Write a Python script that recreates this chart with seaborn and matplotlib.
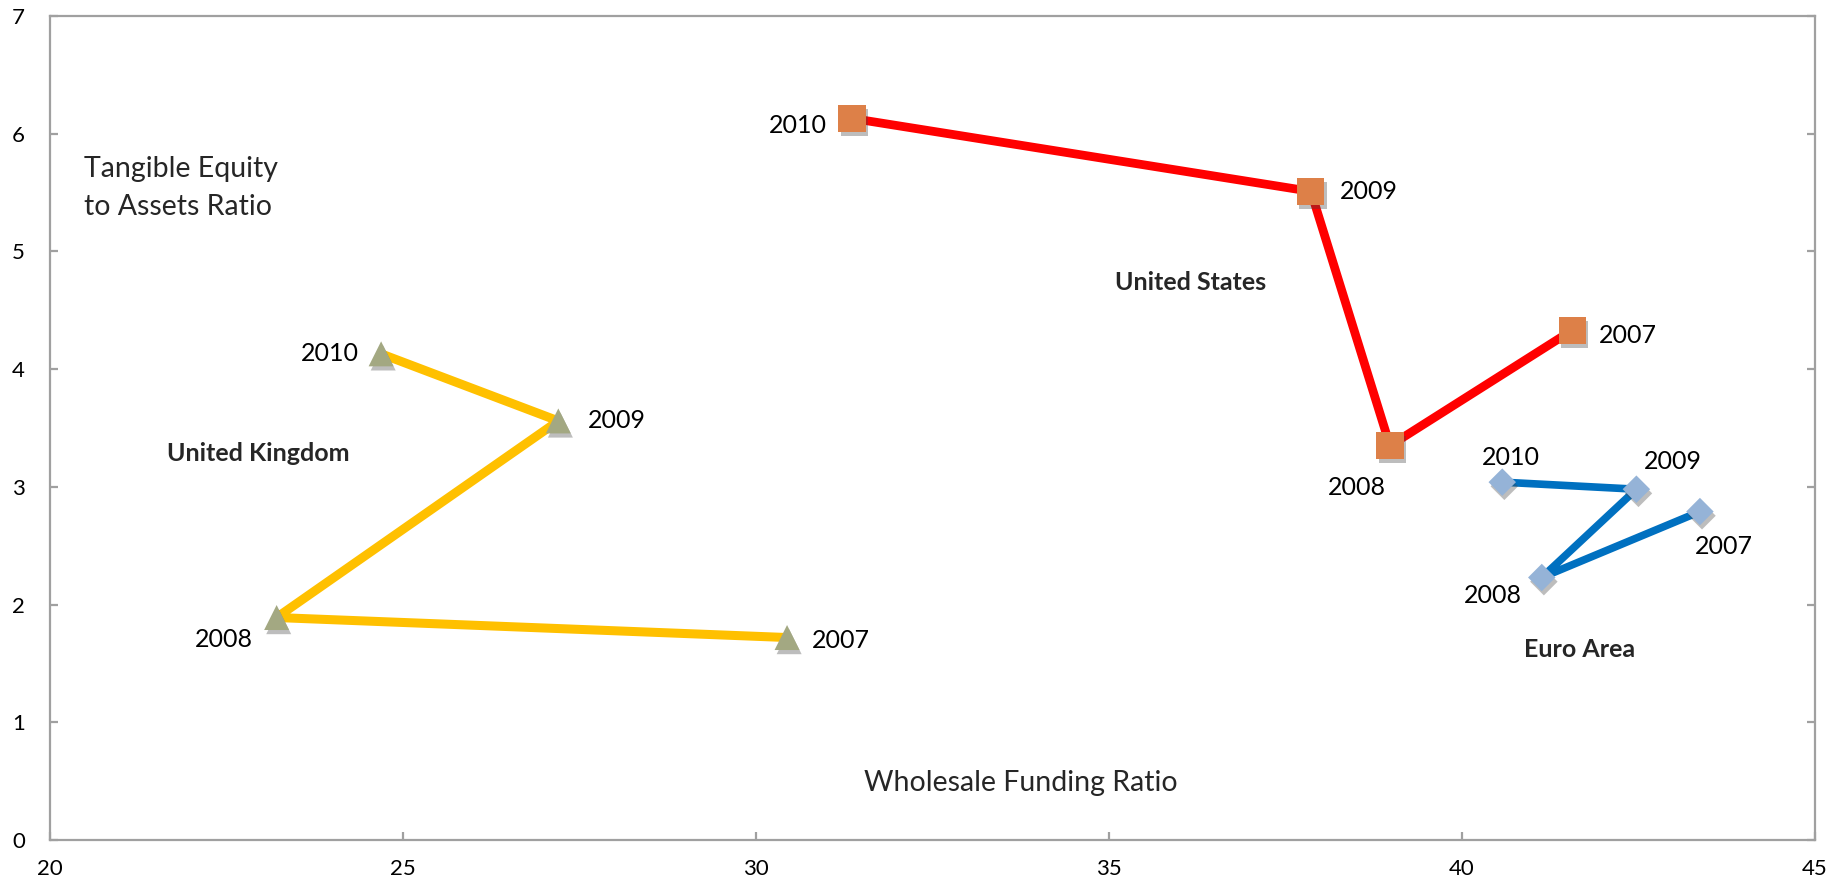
import numpy as np
import pandas as pd
import matplotlib
matplotlib.use("Agg")
import matplotlib.pyplot as plt
import matplotlib.patheffects as pe
import seaborn as sns

# --------------------------------------------------
# Data
# --------------------------------------------------
years = ["2007", "2008", "2009", "2010"]

uk_wholesale = [30.44, 23.21, 27.20, 24.69]
uk_equity = [1.72, 1.89, 3.56, 4.13]

us_wholesale = [41.56, 38.98, 37.86, 31.36]
us_equity = [4.33, 3.35, 5.51, 6.13]

ea_wholesale = [43.37, 41.13, 42.47, 40.57]
ea_equity = [2.79, 2.23, 2.98, 3.04]

# label offsets (points) for the year tags, per series in year order
uk_offsets = [(18, -2, "left"), (-17, -16, "right"), (21, 0, "left"), (-16, 0, "right")]
us_offsets = [(19, -4, "left"), (-24, -30, "center"), (21, 0, "left"), (-18, -5, "right")]
ea_offsets = [(17, -25, "center"), (-35, -13, "center"), (26, 20, "center"), (6, 18, "center")]

sns.set_theme(style="white")
plt.rcParams["font.family"] = ["Lato", "DejaVu Sans"]

fig = plt.figure(figsize=(18.33, 8.82), dpi=100)
ax = fig.add_axes([50 / 1833, 1 - 840 / 882, (1815 - 50) / 1833, (840 - 16) / 882])

series = [
    ("United Kingdom", uk_wholesale, uk_equity, "#FFC000", "#A3A882", "^", 18, 6.5, uk_offsets),
    ("United States", us_wholesale, us_equity, "#FF0000", "#DD8048", "s", 19.5, 6.3, us_offsets),
    ("Euro Area", ea_wholesale, ea_equity, "#0070C0", "#95B3D7", "D", 14, 5.5, ea_offsets),
]

for name, xs, ys, line_col, mark_col, marker, ms, lw, offs in series:
    df = pd.DataFrame({"wholesale": xs, "equity": ys, "year": years})
    sns.lineplot(data=df, x="wholesale", y="equity", sort=False, ax=ax,
                 color=line_col, linewidth=lw, zorder=2)
    pts = ax.scatter(df["wholesale"], df["equity"], marker=marker,
                     s=(ms ** 2), color=mark_col, linewidths=0, zorder=3)
    pts.set_path_effects([pe.SimplePatchShadow(offset=(1.5, -3), alpha=0.35, shadow_rgbFace="#444444"),
                          pe.Normal()])
    for x, y, yr, (dx, dy, ha) in zip(xs, ys, years, offs):
        ax.annotate(yr, (x, y), xytext=(dx, dy), textcoords="offset points",
                    ha=ha, va="center", fontsize=18, color="black")

# series names
ax.text(22.95, 3.28, "United Kingdom", ha="center", va="center", fontsize=18, fontweight="bold")
ax.text(36.15, 4.74, "United States", ha="center", va="center", fontsize=18, fontweight="bold")
ax.text(41.67, 1.62, "Euro Area", ha="center", va="center", fontsize=18, fontweight="bold")

# axis titles placed inside the plot area
ax.text(20.48, 5.54, "Tangible Equity\nto Assets Ratio", ha="left", va="center",
        fontsize=20.5, linespacing=1.6)
ax.text(33.75, 0.48, "Wholesale Funding Ratio", ha="center", va="center", fontsize=20.5)

ax.set_xlim(20, 45)
ax.set_ylim(0, 7)
ax.set_xticks(np.arange(20, 46, 5))
ax.set_yticks(np.arange(0, 8, 1))
ax.set_xlabel("")
ax.set_ylabel("")

for sp in ax.spines.values():
    sp.set_color("#A0A0A0")
    sp.set_linewidth(1.6)

ax.tick_params(axis="both", direction="in", length=6, width=1.6, color="#A0A0A0",
               labelsize=16, labelcolor="black")
ax.tick_params(axis="y", left=True, right=True, pad=18)
ax.tick_params(axis="x", bottom=True, top=False, pad=14)

fig.savefig("out.png", dpi=100)
